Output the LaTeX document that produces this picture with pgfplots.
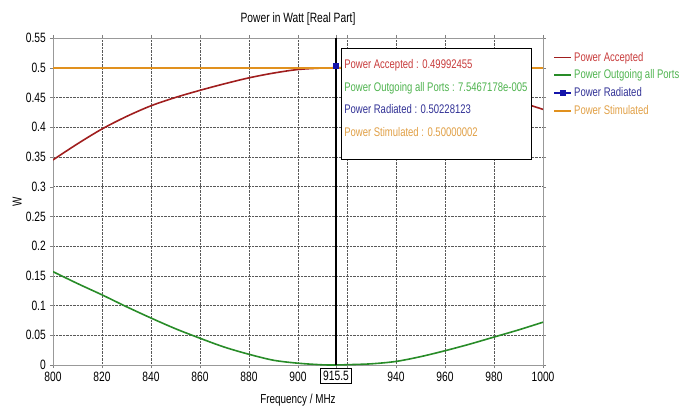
\documentclass[border=0pt]{standalone}
\usepackage{fontspec}
\setmainfont{Liberation Sans}[FakeStretch=0.76]
\usepackage{pgfplots}
\pgfplotsset{compat=1.18}

\definecolor{accred}{RGB}{160,30,30}
\definecolor{outgreen}{RGB}{40,140,40}
\definecolor{radblue}{RGB}{20,20,170}
\definecolor{stimorange}{RGB}{225,145,30}
\definecolor{txtred}{RGB}{200,60,60}
\definecolor{txtgreen}{RGB}{80,180,80}
\definecolor{txtblue}{RGB}{50,50,150}
\definecolor{txtorange}{RGB}{225,160,70}

\begin{document}
\fontsize{12}{14}\selectfont
\begin{tikzpicture}
\useasboundingbox (-53pt,-55pt) rectangle (632pt,365pt);
\begin{axis}[
    scale only axis,
    width=490pt, height=327pt,
    xmin=800, xmax=1000, ymin=0, ymax=0.55,
    xtick={800,820,...,1000},
    xticklabels={800,820,840,860,880,900,,940,960,980,1000},
    ytick={0,0.05,...,0.55},
    yticklabels={0,0.05,0.1,0.15,0.2,0.25,0.3,0.35,0.4,0.45,0.5,0.55},
    extra x ticks={915.5},
    extra x tick labels={915.5},
    extra x tick style={grid=none, tick label style={draw=black, fill=white, inner sep=2.5pt}},
    /pgf/number format/assume math mode=true,
    tick label style={font=\fontsize{13.5}{15}\selectfont},
    tick align=outside, major tick length=3pt,
    tick style={gray},
    axis line style={gray!80},
    grid=major,
    major grid style={densely dotted, gray!70!black},
    title={Power in Watt [Real Part]},
    title style={font=\fontsize{13.5}{15}\selectfont, yshift=2pt},
    xlabel={Frequency / MHz},
    ylabel={W},
    label style={font=\fontsize{13}{15}\selectfont},
    xlabel style={yshift=2pt},
    ylabel style={yshift=-4pt},
    legend style={at={(1.015,0.97)}, anchor=north west, draw=none, fill=none,
        font=\fontsize{12.5}{14}\selectfont, row sep=3pt},
    legend cell align=left,
]
\addplot[accred, line width=1.6pt, smooth] coordinates {
 (800,0.345) (810,0.372) (820,0.397) (830,0.418) (840,0.436) (850,0.450)
 (860,0.462) (870,0.473) (880,0.483) (890,0.491) (900,0.497) (910,0.4995)
 (915.5,0.4999) (920,0.4997) (930,0.498) (940,0.494) (950,0.487) (960,0.478)
 (970,0.467) (980,0.455) (990,0.443) (1000,0.430)};
\addlegendentry{\textcolor{txtred}{Power Accepted}}
\addplot[outgreen, line width=1.6pt, smooth] coordinates {
 (800,0.157) (810,0.137) (820,0.118) (830,0.098) (840,0.079) (850,0.061)
 (860,0.045) (870,0.030) (880,0.018) (890,0.008) (900,0.003) (910,0.0003)
 (915.5,0.0000755) (920,0.0005) (930,0.002) (940,0.006) (950,0.014) (960,0.024)
 (970,0.035) (980,0.047) (990,0.059) (1000,0.072)};
\addlegendentry{\textcolor{txtgreen}{Power Outgoing all Ports}}
\addplot[radblue, line width=1.6pt, mark=square*, mark size=2.2pt] coordinates {
 (915.5,0.50228123)};
\addlegendentry{\textcolor{txtblue}{Power Radiated}}
\addplot[stimorange, line width=1.6pt] coordinates {
 (800,0.50000002) (1000,0.50000002)};
\addlegendentry{\textcolor{txtorange}{Power Stimulated}}
\draw[black, line width=1.3pt] (axis cs:915.5,0) -- (axis cs:915.5,0.55);
\node[draw=black, line width=1.2pt, fill=white, anchor=north west, inner sep=0pt,
      minimum width=190pt, minimum height=111pt] (infobox)
  at (axis cs:917.6,0.533) {};
\node[anchor=north west, inner sep=0pt, align=left,
      font=\fontsize{12.5}{22.7}\selectfont]
  at ([xshift=3pt,yshift=-11pt]infobox.north west) {%
  \textcolor{txtred}{Power Accepted : 0.49992455}\\
  \textcolor{txtgreen}{Power Outgoing all Ports : 7.5467178e-005}\\
  \textcolor{txtblue}{Power Radiated : 0.50228123}\\
  \textcolor{txtorange}{Power Stimulated : 0.50000002}};
\end{axis}
\end{tikzpicture}
\end{document}
